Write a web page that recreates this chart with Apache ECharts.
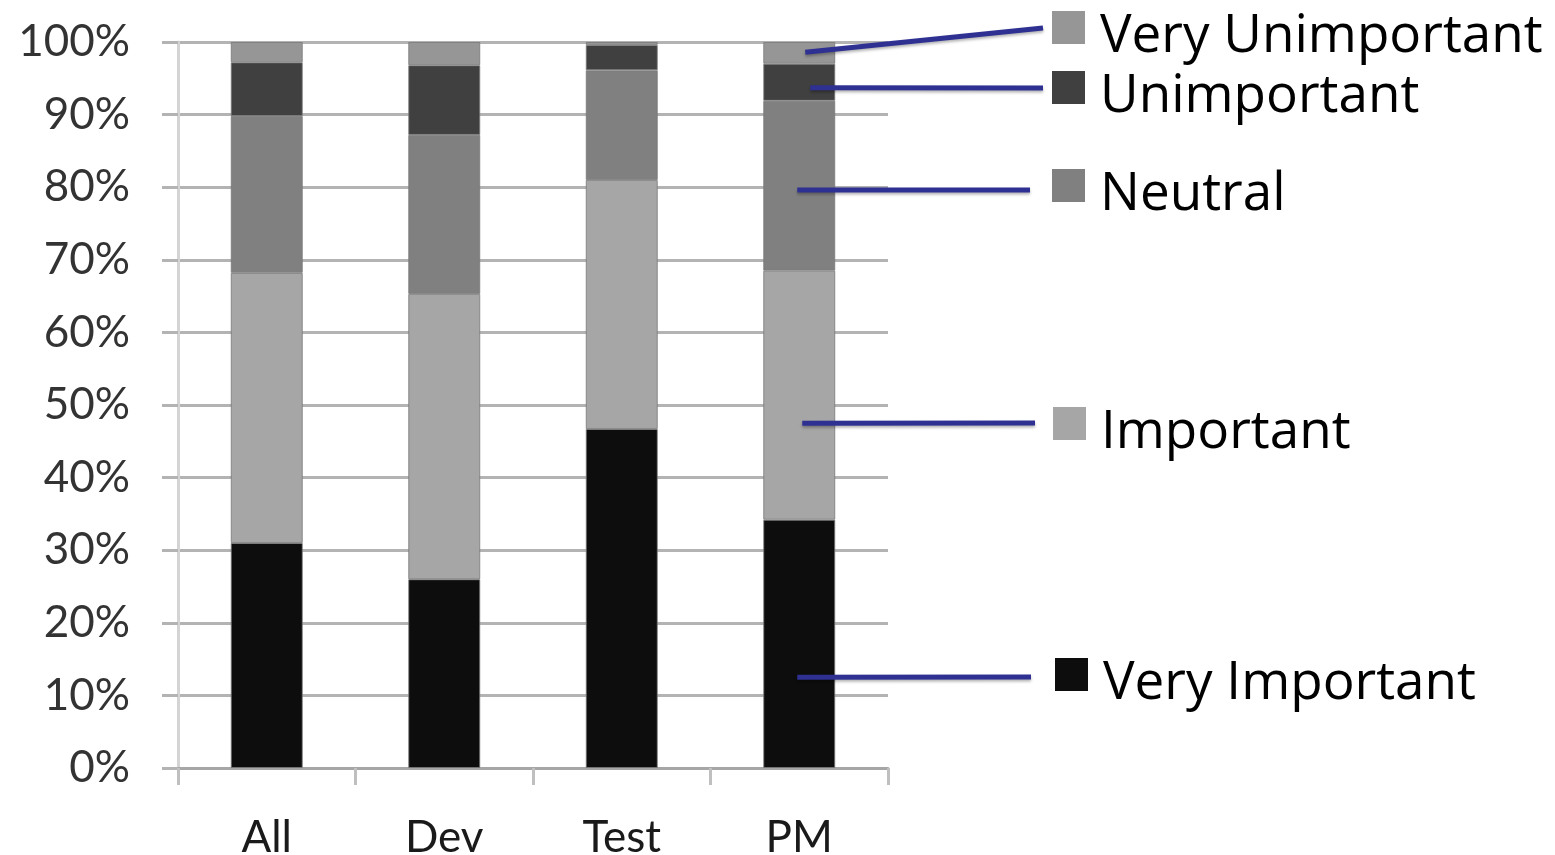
<!DOCTYPE html>
<html>
<head>
<meta charset="utf-8">
<script src="https://cdn.jsdelivr.net/npm/echarts@6/dist/echarts.min.js"></script>
<style>
html,body{margin:0;padding:0;background:#fff;}
#chart{width:1555px;height:855px;}
</style>
</head>
<body>
<div id="chart"></div>
<script>
// ---- data ----
const categories = ['All', 'Dev', 'Test', 'PM'];
const seriesNames = ['Very Important', 'Important', 'Neutral', 'Unimportant', 'Very Unimportant'];
const veryImportant   = [31.0, 26.0, 46.7, 34.2];
const important       = [37.2, 39.3, 34.3, 34.3];
const neutral         = [21.6, 21.9, 15.1, 23.4];
const unimportant     = [7.4, 9.6, 3.5, 5.1];
const veryUnimportant = [2.8, 3.2, 0.4, 3.0];
const yTicks = [0, 10, 20, 30, 40, 50, 60, 70, 80, 90, 100];
// annotation anchors (value on PM bar, in %) for each legend callout
const calloutValues = [12.5, 47.5, 79.6, 93.7, 98.6];

// ---- style / layout ----
const colors = ['#0d0d0d', '#a6a6a6', '#808080', '#404040', '#969696'];
const legendTops = [639, 388, 150, 52, -8];   // pixel top of each legend item box
const legendLeft = [1055, 1053, 1052, 1052, 1052];
const calloutDx = [-2, 3, -2, 11, 6];
const calloutEndX = [1031, 1035, 1030, 1043, 1043];
const calloutEndY = [677, 423, 190, 88, 28];

const seriesData = [veryImportant, important, neutral, unimportant, veryUnimportant];
const AXIS_FONT = 'Lato';
const LEGEND_FONT = 'Open Sans';

const chart = echarts.init(document.getElementById('chart'), null, {renderer: 'canvas'});

const legends = seriesNames.map((name, i) => ({
  data: [name],
  left: legendLeft[i],
  top: legendTops[i],
  padding: 0,
  itemWidth: 33,
  itemHeight: 33,
  icon: 'rect',
  selectedMode: false,
  itemStyle: { borderWidth: 0 },
  formatter: n => '{t|' + n + '}',
  textStyle: {
    fontFamily: LEGEND_FONT, fontSize: 53, color: '#000',
    rich: {
      t: {
        fontFamily: LEGEND_FONT, fontSize: 53, color: '#000', lineHeight: 60,
        padding: [18, 0, 0, 10]
      }
    }
  }
}));

const series = seriesNames.map((name, i) => ({
  name: name,
  type: 'bar',
  stack: 'total',
  barWidth: 72,
  data: seriesData[i],
  itemStyle: { color: colors[i], borderColor: 'rgba(120,120,120,0.8)', borderWidth: 1 },
  emphasis: { disabled: true }
}));

chart.setOption({
  animation: false,
  backgroundColor: '#fff',
  color: colors,
  grid: { left: 178, right: 667, top: 42, bottom: 87, containLabel: false, outerBoundsMode: 'none' },
  legend: legends,
  xAxis: {
    type: 'category',
    data: categories,
    axisLine: { lineStyle: { color: '#a6a6a6', width: 3 } },
    axisTick: { show: true, length: 17, lineStyle: { color: '#bfbfbf', width: 3 } },
    axisLabel: { fontFamily: AXIS_FONT, fontSize: 44, color: '#1a1a1a', margin: 48 }
  },
  yAxis: {
    type: 'value',
    min: 0, max: 100, interval: 10,
    axisLine: { show: true, lineStyle: { color: '#d4d4d4', width: 3 } },
    axisTick: { show: true, length: 16, lineStyle: { color: '#b3b3b3', width: 3 } },
    splitLine: { show: true, lineStyle: { color: '#b3b3b3', width: 3 } },
    axisLabel: {
      fontFamily: AXIS_FONT, fontSize: 44, color: '#333', margin: 48,
      padding: [8, 0, 0, 0],
      formatter: v => (yTicks.indexOf(v) >= 0 ? v + '%' : '')
    }
  },
  series: series
});

// callout lines from PM bar to legend items
const graphics = calloutValues.map((v, i) => {
  const p = chart.convertToPixel({xAxisIndex: 0, yAxisIndex: 0}, [categories[3], v]);
  return {
    type: 'line',
    z: 100,
    shape: { x1: p[0] + calloutDx[i], y1: p[1], x2: calloutEndX[i], y2: calloutEndY[i] },
    style: {
      stroke: '#2e3192', lineWidth: 5,
      shadowColor: 'rgba(0,0,0,0.3)', shadowBlur: 3, shadowOffsetY: 2
    }
  };
});
chart.setOption({ graphic: graphics });
</script>
</body>
</html>
